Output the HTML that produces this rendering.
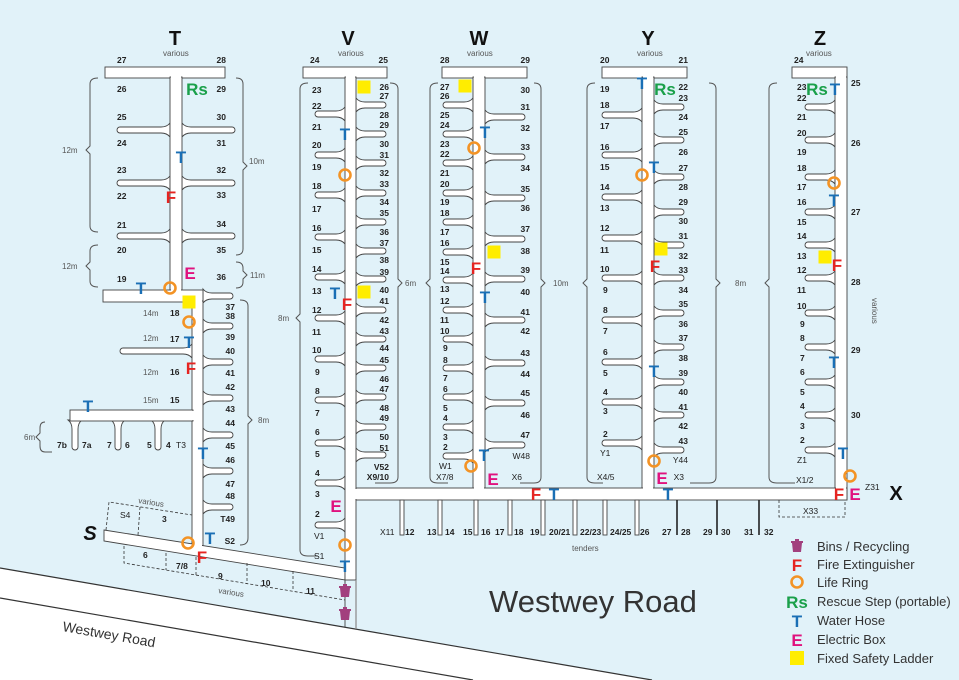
<!DOCTYPE html>
<html><head><meta charset="utf-8"><style>
html,body{margin:0;padding:0;background:#e1f2f9}
svg{display:block}
.l{font:bold 8.5px "Liberation Sans",sans-serif;fill:#222}
.s{font:8px "Liberation Sans",sans-serif;fill:#555}
.P{font:bold 20px "Liberation Sans",sans-serif;fill:#111;text-anchor:middle}
.i{font:bold 17px "Liberation Sans",sans-serif;text-anchor:middle}
.T{fill:#1a6fb5}.F{fill:#e52421}.E{fill:#e0127e}.R{fill:#1aa04a}
.lg{font:13px "Liberation Sans",sans-serif;fill:#333}
.w{fill:#fff;stroke:#444;stroke-width:.9}
.br{fill:none;stroke:#555;stroke-width:1}
.d{fill:none;stroke:#333;stroke-width:.8;stroke-dasharray:3 2}
</style></head><body>
<svg width="959" height="680" viewBox="0 0 959 680" xmlns="http://www.w3.org/2000/svg">
<defs>
<path id="f30" class="w" d="M0,-7 Q-3,-3 -9,-3 L-27,-3 A3,3 0 0 0 -27,3 L-9,3 Q-3,3 0,7 Z"/>
<path id="f40" class="w" d="M0,-7 Q-3,-3 -9,-3 L-37,-3 A3,3 0 0 0 -37,3 L-9,3 Q-3,3 0,7 Z"/>
<path id="f52" class="w" d="M0,-7 Q-3,-3 -9,-3 L-50,-3 A3,3 0 0 0 -50,3 L-9,3 Q-3,3 0,7 Z"/>
<path id="f72" class="w" d="M0,-7 Q-3,-3 -9,-3 L-69,-3 A3,3 0 0 0 -69,3 L-9,3 Q-3,3 0,7 Z"/>
<circle id="ring" r="5.5" fill="none" stroke="#f39325" stroke-width="2.6"/>
<rect id="lad" x="-6.5" y="-6.5" width="13" height="13" fill="#ffed00"/>
<path id="bin" d="M-5,-3 L5,-3 L4,6 L-4,6 Z M-6,-5 L6,-5 L6,-3 L-6,-3 Z M-2,-7 L2,-7 L2,-5 L-2,-5Z" fill="#a2407e"/>
</defs>
<rect width="959" height="680" fill="#e1f2f9"/>
<!-- road -->
<polygon points="0,568 652,680 0,680" fill="#fff"/>
<line x1="0" y1="568" x2="652" y2="680" stroke="#333" stroke-width="1.2"/>
<line x1="0" y1="598" x2="473" y2="680" stroke="#333" stroke-width="1.2"/>

<!-- T fingers -->
<use href="#f52" x="170" y="130"/><use href="#f52" x="170" y="183"/><use href="#f52" x="170" y="236"/>
<use href="#f52" transform="translate(182,130) scale(-1,1)"/><use href="#f52" transform="translate(182,183) scale(-1,1)"/><use href="#f52" transform="translate(182,236) scale(-1,1)"/>
<use href="#f72" x="192" y="351"/>
<g transform="translate(203,0) scale(-1,1)"><use href="#f30" y="296"/><use href="#f30" y="326"/><use href="#f30" y="362"/><use href="#f30" y="398"/><use href="#f30" y="435"/><use href="#f30" y="471"/><use href="#f30" y="507"/></g>
<use href="#f30" transform="translate(75,420) rotate(-90)"/><use href="#f30" transform="translate(118,420) rotate(-90)"/><use href="#f30" transform="translate(158,420) rotate(-90)"/>
<!-- T structures -->
<rect class="w" x="105" y="67" width="120" height="11"/>
<rect class="w" x="170" y="77" width="12" height="214"/>
<rect class="w" x="103" y="290" width="100" height="12"/>
<rect class="w" x="192" y="301" width="11" height="245"/>
<rect class="w" x="70" y="410" width="123" height="11"/>
<rect x="171" y="286" width="10" height="6" fill="#fff"/>
<rect x="193" y="299" width="9" height="5" fill="#fff"/>
<rect x="189" y="411" width="5" height="9" fill="#fff"/>
<polygon class="w" points="104,530 345,568 345,580 104,541"/>
<rect x="193" y="540" width="9" height="8" fill="#fff"/>
<!-- S dashed -->
<path class="d" d="M106,530 L109,502 L192,515 M140,507 L138,535 M124,546 L124,563 L345,600 M166,553 L166,570 M196,557 L196,575 M247,563 L247,584 M293,571 L293,591 M345,580 L345,600"/>

<!-- V fingers -->
<g><use href="#f30" x="345" y="114"/><use href="#f30" x="345" y="155"/><use href="#f30" x="345" y="195"/><use href="#f30" x="345" y="237"/><use href="#f30" x="345" y="277"/><use href="#f30" x="345" y="318"/><use href="#f30" x="345" y="359"/><use href="#f30" x="345" y="400"/><use href="#f30" x="345" y="443"/><use href="#f30" x="345" y="483"/><use href="#f30" x="345" y="525"/></g>
<g transform="translate(356,0) scale(-1,1)"><use href="#f30" y="105"/><use href="#f30" y="134"/><use href="#f30" y="163"/><use href="#f30" y="193"/><use href="#f30" y="222"/><use href="#f30" y="251"/><use href="#f30" y="279"/><use href="#f30" y="310"/><use href="#f30" y="339"/><use href="#f30" y="368"/><use href="#f30" y="397"/><use href="#f30" y="427"/><use href="#f30" y="455"/></g>
<!-- W fingers -->
<g><use href="#f30" x="473" y="105"/><use href="#f30" x="473" y="134"/><use href="#f30" x="473" y="163"/><use href="#f30" x="473" y="193"/><use href="#f30" x="473" y="222"/><use href="#f30" x="473" y="252"/><use href="#f30" x="473" y="280"/><use href="#f30" x="473" y="310"/><use href="#f30" x="473" y="339"/><use href="#f30" x="473" y="368"/><use href="#f30" x="473" y="397"/><use href="#f30" x="473" y="427"/><use href="#f30" x="473" y="456"/></g>
<g transform="translate(485,0) scale(-1,1)"><use href="#f40" y="117"/><use href="#f40" y="157"/><use href="#f40" y="198"/><use href="#f40" y="239"/><use href="#f40" y="279"/><use href="#f40" y="320"/><use href="#f40" y="363"/><use href="#f40" y="403"/><use href="#f40" y="445"/></g>
<!-- Y fingers -->
<g><use href="#f40" x="642" y="115"/><use href="#f40" x="642" y="155"/><use href="#f40" x="642" y="197"/><use href="#f40" x="642" y="238"/><use href="#f40" x="642" y="278"/><use href="#f40" x="642" y="320"/><use href="#f40" x="642" y="362"/><use href="#f40" x="642" y="402"/><use href="#f40" x="642" y="443"/></g>
<g transform="translate(654,0) scale(-1,1)"><use href="#f30" y="107"/><use href="#f30" y="140"/><use href="#f30" y="177"/><use href="#f30" y="212"/><use href="#f30" y="245"/><use href="#f30" y="278"/><use href="#f30" y="313"/><use href="#f30" y="347"/><use href="#f30" y="382"/><use href="#f30" y="415"/><use href="#f30" y="450"/></g>
<!-- Z fingers -->
<g><use href="#f30" x="835" y="107"/><use href="#f30" x="835" y="140"/><use href="#f30" x="835" y="177"/><use href="#f30" x="835" y="212"/><use href="#f30" x="835" y="245"/><use href="#f30" x="835" y="278"/><use href="#f30" x="835" y="313"/><use href="#f30" x="835" y="347"/><use href="#f30" x="835" y="382"/><use href="#f30" x="835" y="415"/><use href="#f30" x="835" y="450"/></g>

<!-- main piers -->
<rect class="w" x="303" y="67" width="84" height="11"/>
<rect class="w" x="345" y="77" width="11" height="503"/>
<line x1="345" y1="580" x2="345" y2="627" stroke="#444" stroke-width=".9"/>
<line x1="356" y1="580" x2="356" y2="629" stroke="#888" stroke-width="1.2"/>
<rect class="w" x="442" y="67" width="85" height="11"/>
<rect class="w" x="473" y="77" width="12" height="412"/>
<rect class="w" x="602" y="67" width="85" height="11"/>
<rect class="w" x="642" y="77" width="12" height="412"/>
<rect class="w" x="792" y="67" width="55" height="11"/>
<rect class="w" x="835" y="77" width="12" height="423"/>
<rect class="w" x="356" y="488" width="491" height="12"/>
<rect x="346" y="489" width="12" height="10" fill="#fff"/>
<rect x="474" y="485" width="10" height="6" fill="#fff"/>
<rect x="643" y="485" width="10" height="6" fill="#fff"/>
<rect x="836" y="486" width="10" height="13" fill="#fff"/>
<rect x="346" y="75" width="9" height="5" fill="#fff"/><rect x="474" y="75" width="10" height="5" fill="#fff"/><rect x="643" y="75" width="10" height="5" fill="#fff"/><rect x="836" y="75" width="10" height="5" fill="#fff"/><rect x="171" y="75" width="10" height="5" fill="#fff"/>
<rect x="346" y="560" width="9" height="19" fill="#fff"/>
<!-- tender fingers -->
<g class="w"><rect x="400" y="500" width="4" height="35"/><rect x="438" y="500" width="4" height="35"/><rect x="474" y="500" width="4" height="35"/><rect x="508" y="500" width="4" height="35"/><rect x="541" y="500" width="4" height="35"/><rect x="573" y="500" width="4" height="35"/><rect x="603" y="500" width="4" height="35"/><rect x="635" y="500" width="4" height="35"/></g>
<g stroke="#222" stroke-width="1.6"><line x1="677" y1="500" x2="677" y2="535"/><line x1="717" y1="500" x2="717" y2="535"/><line x1="759" y1="500" x2="759" y2="535"/></g>
<path class="d" d="M779,500 L779,517 L845,517 L845,500"/>

<!-- braces -->
<g class="br">
<path d="M98,78 Q90,78 90,84 L90,146 L86,150 L90,154 L90,226 Q90,232 98,232"/>
<path d="M98,245 Q90,245 90,251 L90,262 L86,266 L90,270 L90,281 Q90,287 98,287"/>
<path d="M236,78 Q243,78 243,84 L243,162 L247,166 L243,170 L243,249 Q243,255 236,255"/>
<path d="M236,262 Q243,262 243,268 L243,271 L247,275 L243,279 L243,282 Q243,288 236,288"/>
<path d="M240,300 Q248,300 248,306 L248,416 L252,420 L248,424 L248,538 Q248,545 240,545"/>
<path d="M308,83 Q300,83 300,89 L300,314 L296,318 L300,322 L300,550 Q300,556 308,556 L318,556"/>
<path d="M390,83 Q398,83 398,89 L398,279 L402,283 L398,287 L398,477 Q398,483 390,483 L375,483"/>
<path d="M438,83 Q430,83 430,89 L430,279 L426,283 L430,287 L430,477 Q430,483 438,483 L448,483"/>
<path d="M534,83 Q541,83 541,89 L541,279 L545,283 L541,287 L541,477 Q541,483 534,483 L520,483"/>
<path d="M595,83 Q587,83 587,89 L587,279 L583,283 L587,287 L587,477 Q587,483 595,483 L603,483"/>
<path d="M709,83 Q716,83 716,89 L716,279 L720,283 L716,287 L716,477 Q716,483 709,483 L690,483"/>
<path d="M777,83 Q769,83 769,89 L769,279 L765,283 L769,287 L769,477 Q769,483 777,483 L795,483"/>
<path d="M45,422 Q40,422 40,428 L40,433 L36,437 L40,441 L40,446 Q40,452 45,452 L52,452"/>
</g>
<g class="s"><text x="62" y="153">12m</text><text x="62" y="269">12m</text><text x="249" y="164">10m</text><text x="250" y="278">11m</text><text x="258" y="423">8m</text><text x="278" y="321">8m</text><text x="405" y="286">6m</text><text x="553" y="286">10m</text><text x="735" y="286">8m</text><text x="24" y="440">6m</text>
<text x="143" y="316">14m</text><text x="143" y="341">12m</text><text x="143" y="375">12m</text><text x="143" y="403">15m</text>
<text x="163" y="56">various</text><text x="338" y="56">various</text><text x="467" y="56">various</text><text x="637" y="56">various</text><text x="806" y="56">various</text>
<text x="138" y="503" transform="rotate(9 138 503)">various</text><text x="218" y="593" transform="rotate(9 218 593)">various</text>
<text x="872" y="298" transform="rotate(90 872 298)">various</text><text x="572" y="551">tenders</text></g>
<g class="P"><text x="175" y="45">T</text><text x="348" y="45">V</text><text x="479" y="45">W</text><text x="648" y="45">Y</text><text x="820" y="45">Z</text><text x="896" y="500">X</text><text x="90" y="540" font-style="italic">S</text></g>

<!-- labels -->
<g class="l">
<text x="117" y="63">27</text><text x="117" y="92">26</text><text x="117" y="120">25</text><text x="117" y="146">24</text><text x="117" y="173">23</text><text x="117" y="199">22</text><text x="117" y="228">21</text><text x="117" y="253">20</text><text x="117" y="282">19</text>
<text x="170" y="316">18</text><text x="170" y="342">17</text><text x="170" y="375">16</text><text x="170" y="403">15</text>
<text x="57" y="448">7b</text><text x="82" y="448">7a</text><text x="107" y="448">7</text><text x="125" y="448">6</text><text x="147" y="448">5</text><text x="166" y="448">4</text><text x="176" y="448" font-weight="normal">T3</text>
<text x="310" y="63">24</text><text x="440" y="63">28</text><text x="600" y="63">20</text><text x="794" y="63">24</text>
<text x="143" y="558">6</text><text x="176" y="569">7/8</text><text x="218" y="579">9</text><text x="261" y="586">10</text><text x="306" y="594">11</text><text x="120" y="518" font-weight="normal">S4</text><text x="162" y="522">3</text>
</g>
<g class="l" text-anchor="end">
<text x="226" y="63">28</text><text x="226" y="92">29</text><text x="226" y="120">30</text><text x="226" y="146">31</text><text x="226" y="173">32</text><text x="226" y="198">33</text><text x="226" y="227">34</text><text x="226" y="253">35</text><text x="226" y="280">36</text>
<text x="235" y="310">37</text><text x="235" y="319">38</text><text x="235" y="340">39</text><text x="235" y="354">40</text><text x="235" y="376">41</text><text x="235" y="390">42</text><text x="235" y="412">43</text><text x="235" y="426">44</text><text x="235" y="449">45</text><text x="235" y="463">46</text><text x="235" y="487">47</text><text x="235" y="499">48</text><text x="235" y="522">T49</text><text x="235" y="544">S2</text>
<text x="388" y="63">25</text><text x="530" y="63">29</text><text x="688" y="63">21</text>
</g>
<!-- V left -->
<g class="l"><text x="312" y="93">23</text><text x="312" y="109">22</text><text x="312" y="130">21</text><text x="312" y="148">20</text><text x="312" y="170">19</text><text x="312" y="189">18</text><text x="312" y="212">17</text><text x="312" y="231">16</text><text x="312" y="253">15</text><text x="312" y="272">14</text><text x="312" y="294">13</text><text x="312" y="313">12</text><text x="312" y="335">11</text><text x="312" y="353">10</text><text x="315" y="375">9</text><text x="315" y="394">8</text><text x="315" y="416">7</text><text x="315" y="435">6</text><text x="315" y="457">5</text><text x="315" y="476">4</text><text x="315" y="497">3</text><text x="315" y="517">2</text><text x="314" y="539" font-weight="normal">V1</text><text x="314" y="559" font-weight="normal">S1</text></g>
<g class="l" text-anchor="end"><text x="389" y="90">26</text><text x="389" y="99">27</text><text x="389" y="118">28</text><text x="389" y="128">29</text><text x="389" y="147">30</text><text x="389" y="158">31</text><text x="389" y="176">32</text><text x="389" y="187">33</text><text x="389" y="205">34</text><text x="389" y="216">35</text><text x="389" y="235">36</text><text x="389" y="246">37</text><text x="389" y="263">38</text><text x="389" y="275">39</text><text x="389" y="293">40</text><text x="389" y="304">41</text><text x="389" y="323">42</text><text x="389" y="334">43</text><text x="389" y="351">44</text><text x="389" y="363">45</text><text x="389" y="382">46</text><text x="389" y="392">47</text><text x="389" y="411">48</text><text x="389" y="421">49</text><text x="389" y="440">50</text><text x="389" y="451">51</text><text x="389" y="470">V52</text><text x="389" y="480">X9/10</text></g>
<!-- W -->
<g class="l"><text x="440" y="90">27</text><text x="440" y="99">26</text><text x="440" y="118">25</text><text x="440" y="128">24</text><text x="440" y="147">23</text><text x="440" y="157">22</text><text x="440" y="176">21</text><text x="440" y="187">20</text><text x="440" y="205">19</text><text x="440" y="216">18</text><text x="440" y="235">17</text><text x="440" y="246">16</text><text x="440" y="265">15</text><text x="440" y="274">14</text><text x="440" y="292">13</text><text x="440" y="304">12</text><text x="440" y="323">11</text><text x="440" y="334">10</text><text x="443" y="351">9</text><text x="443" y="363">8</text><text x="443" y="381">7</text><text x="443" y="392">6</text><text x="443" y="411">5</text><text x="443" y="421">4</text><text x="443" y="440">3</text><text x="443" y="450">2</text><text x="439" y="469" font-weight="normal">W1</text><text x="436" y="480" font-weight="normal">X7/8</text></g>
<g class="l" text-anchor="end"><text x="530" y="93">30</text><text x="530" y="110">31</text><text x="530" y="131">32</text><text x="530" y="150">33</text><text x="530" y="171">34</text><text x="530" y="192">35</text><text x="530" y="211">36</text><text x="530" y="232">37</text><text x="530" y="254">38</text><text x="530" y="273">39</text><text x="530" y="295">40</text><text x="530" y="315">41</text><text x="530" y="334">42</text><text x="530" y="356">43</text><text x="530" y="377">44</text><text x="530" y="396">45</text><text x="530" y="418">46</text><text x="530" y="438">47</text><text x="530" y="459" font-weight="normal">W48</text><text x="522" y="480" font-weight="normal">X6</text></g>
<!-- Y -->
<g class="l"><text x="600" y="92">19</text><text x="600" y="108">18</text><text x="600" y="129">17</text><text x="600" y="150">16</text><text x="600" y="170">15</text><text x="600" y="190">14</text><text x="600" y="211">13</text><text x="600" y="231">12</text><text x="600" y="253">11</text><text x="600" y="272">10</text><text x="603" y="293">9</text><text x="603" y="313">8</text><text x="603" y="334">7</text><text x="603" y="355">6</text><text x="603" y="376">5</text><text x="603" y="395">4</text><text x="603" y="414">3</text><text x="603" y="437">2</text><text x="600" y="456" font-weight="normal">Y1</text><text x="597" y="480" font-weight="normal">X4/5</text></g>
<g class="l" text-anchor="end"><text x="688" y="90">22</text><text x="688" y="101">23</text><text x="688" y="120">24</text><text x="688" y="135">25</text><text x="688" y="155">26</text><text x="688" y="171">27</text><text x="688" y="190">28</text><text x="688" y="205">29</text><text x="688" y="224">30</text><text x="688" y="239">31</text><text x="688" y="259">32</text><text x="688" y="273">33</text><text x="688" y="293">34</text><text x="688" y="307">35</text><text x="688" y="327">36</text><text x="688" y="341">37</text><text x="688" y="361">38</text><text x="688" y="376">39</text><text x="688" y="395">40</text><text x="688" y="410">41</text><text x="688" y="429">42</text><text x="688" y="444">43</text><text x="688" y="463" font-weight="normal">Y44</text><text x="684" y="480" font-weight="normal">X3</text></g>
<!-- Z -->
<g class="l"><text x="797" y="90">23</text><text x="797" y="101">22</text><text x="797" y="120">21</text><text x="797" y="136">20</text><text x="797" y="155">19</text><text x="797" y="171">18</text><text x="797" y="190">17</text><text x="797" y="205">16</text><text x="797" y="225">15</text><text x="797" y="239">14</text><text x="797" y="259">13</text><text x="797" y="273">12</text><text x="797" y="293">11</text><text x="797" y="309">10</text><text x="800" y="327">9</text><text x="800" y="341">8</text><text x="800" y="361">7</text><text x="800" y="375">6</text><text x="800" y="395">5</text><text x="800" y="409">4</text><text x="800" y="429">3</text><text x="800" y="443">2</text><text x="797" y="463" font-weight="normal">Z1</text><text x="796" y="483" font-weight="normal">X1/2</text>
<text x="851" y="86">25</text><text x="851" y="146">26</text><text x="851" y="215">27</text><text x="851" y="285">28</text><text x="851" y="353">29</text><text x="851" y="418">30</text><text x="865" y="490" font-weight="normal">Z31</text><text x="803" y="514" font-weight="normal">X33</text></g>
<!-- tenders labels -->
<g class="l"><text x="380" y="535" font-weight="normal">X11</text><text x="405" y="535">12</text><text x="427" y="535">13</text><text x="445" y="535">14</text><text x="463" y="535">15</text><text x="481" y="535">16</text><text x="495" y="535">17</text><text x="514" y="535">18</text><text x="530" y="535">19</text><text x="549" y="535">20/21</text><text x="580" y="535">22/23</text><text x="610" y="535">24/25</text><text x="640" y="535">26</text><text x="662" y="535">27</text><text x="681" y="535">28</text><text x="703" y="535">29</text><text x="721" y="535">30</text><text x="744" y="535">31</text><text x="764" y="535">32</text></g>

<!-- icons -->
<g>
<use href="#lad" x="189" y="302"/><use href="#lad" x="364" y="87"/><use href="#lad" x="364" y="292"/><use href="#lad" x="465" y="86"/><use href="#lad" x="494" y="252"/><use href="#lad" x="661" y="249"/><use href="#lad" x="825" y="257"/>
<use href="#ring" x="170" y="288"/><use href="#ring" x="189" y="322"/><use href="#ring" x="188" y="543"/><use href="#ring" x="345" y="175"/><use href="#ring" x="345" y="545"/><use href="#ring" x="474" y="148"/><use href="#ring" x="471" y="466"/><use href="#ring" x="642" y="175"/><use href="#ring" x="654" y="461"/><use href="#ring" x="834" y="183"/><use href="#ring" x="850" y="476"/>
<use href="#bin" x="345" y="591"/><use href="#bin" x="345" y="614"/>
</g>
<g class="i">
<text class="R" x="197" y="95">Rs</text><text class="R" x="665" y="95">Rs</text><text class="R" x="817" y="95">Rs</text>
<text class="T" x="181" y="163">T</text><text class="T" x="141" y="294">T</text><text class="T" x="189" y="348">T</text><text class="T" x="88" y="412">T</text><text class="T" x="203" y="459">T</text><text class="T" x="210" y="544">T</text>
<text class="T" x="345" y="140">T</text><text class="T" x="335" y="299">T</text><text class="T" x="345" y="572">T</text>
<text class="T" x="485" y="138">T</text><text class="T" x="485" y="303">T</text><text class="T" x="484" y="461">T</text><text class="T" x="554" y="500">T</text>
<text class="T" x="642" y="89">T</text><text class="T" x="654" y="173">T</text><text class="T" x="654" y="377">T</text><text class="T" x="668" y="500">T</text>
<text class="T" x="835" y="95">T</text><text class="T" x="834" y="206">T</text><text class="T" x="834" y="368">T</text><text class="T" x="843" y="459">T</text>
<text class="F" x="171" y="203">F</text><text class="F" x="191" y="374">F</text><text class="F" x="202" y="563">F</text><text class="F" x="347" y="310">F</text><text class="F" x="476" y="274">F</text><text class="F" x="536" y="500">F</text><text class="F" x="655" y="272">F</text><text class="F" x="837" y="271">F</text><text class="F" x="839" y="500">F</text>
<text class="E" x="190" y="279">E</text><text class="E" x="336" y="512">E</text><text class="E" x="493" y="485">E</text><text class="E" x="662" y="484">E</text><text class="E" x="855" y="500">E</text>
</g>

<!-- legend -->
<use href="#bin" x="797" y="546"/>
<g class="i"><text class="F" x="797" y="571">F</text><text class="R" x="797" y="608">Rs</text><text class="T" x="797" y="627">T</text><text class="E" x="797" y="646">E</text></g>
<use href="#ring" x="797" y="582"/><rect x="790" y="651" width="14" height="14" fill="#ffed00"/>
<g class="lg"><text x="817" y="551">Bins / Recycling</text><text x="817" y="569">Fire Extinguisher</text><text x="817" y="587">Life Ring</text><text x="817" y="606">Rescue Step (portable)</text><text x="817" y="625">Water Hose</text><text x="817" y="644">Electric Box</text><text x="817" y="663">Fixed Safety Ladder</text></g>

<text x="489" y="612" font-family="Liberation Sans, sans-serif" font-size="31" fill="#333">Westwey Road</text>
<text x="62" y="631" font-family="Liberation Sans, sans-serif" font-size="14" fill="#333" transform="rotate(10 62 631)">Westwey Road</text>
</svg>
</body></html>
